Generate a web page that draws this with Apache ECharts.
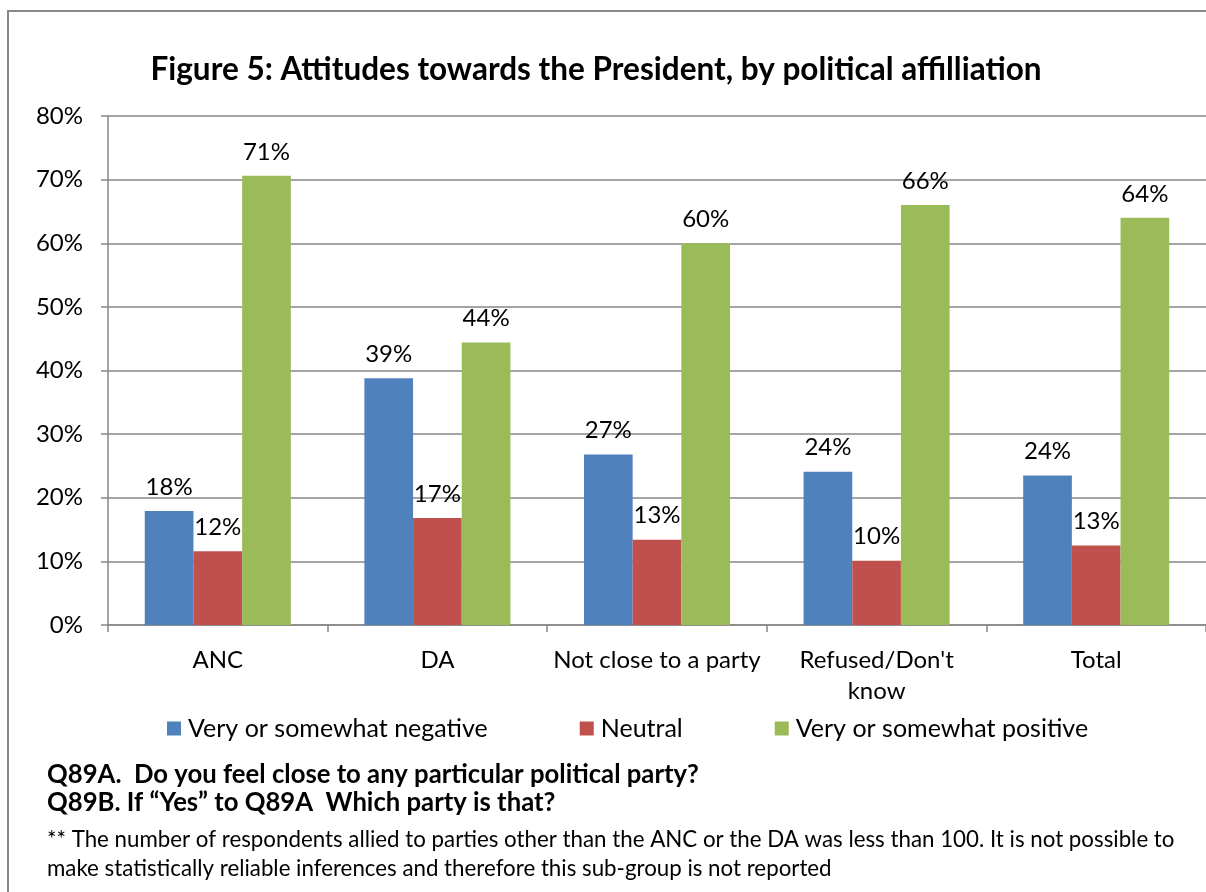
<!DOCTYPE html>
<html><head><meta charset="utf-8">
<script src="https://cdn.jsdelivr.net/npm/echarts@6/dist/echarts.min.js"></script>
<style>html,body{margin:0;padding:0;background:#fff}#c{width:1206px;height:892px}</style>
</head><body><div id="c"></div>
<script>
const categories = ["ANC", "DA", "Not close to a party", "Refused/Don't\nknow", "Total"];
const seriesNames = ["Very or somewhat negative", "Neutral", "Very or somewhat positive"];
const negative = [17.9, 38.8, 26.8, 24.1, 23.5];
const neutral = [11.6, 16.8, 13.4, 10.1, 12.5];
const positive = [70.6, 44.4, 60.0, 66.0, 64.0];
const colors = ["#4F81BD", "#C0504D", "#9BBB59"];
const yTicks = [0, 10, 20, 30, 40, 50, 60, 70, 80];
const FONT = "Lato";

const chart = echarts.init(document.getElementById('c'), null, {renderer: 'canvas'});
const mk = (name, data, color) => ({
  name, type: 'bar', data, barGap: '0%', barCategoryGap: '33.5%',
  itemStyle: {color},
  label: {show: true, position: 'top', distance: 12, color: '#000', fontFamily: FONT, fontSize: 24,
    formatter: p => Math.round(p.value) + '%'}
});
chart.setOption({
  animation: false,
  title: {text: 'Figure 5: Attitudes towards the President, by political affilliation', left: 591, textAlign: 'center', top: 49,
    textStyle: {fontFamily: FONT, fontSize: 31.5, fontWeight: 'bold', color: '#000'}},
  legend: {bottom: 146, left: 162, itemWidth: 14, itemHeight: 14, itemGap: 92, icon: 'rect',
    textStyle: {fontFamily: FONT, fontSize: 25, color: '#000', padding: [0, 0, 0, 2]}, data: seriesNames},
  grid: {left: 108, right: -10, top: 116, bottom: 267, containLabel: false},
  xAxis: {type: 'category', data: categories,
    axisLine: {lineStyle: {color: '#868686', width: 1.5}},
    axisTick: {show: true, length: 7, lineStyle: {color: '#868686', width: 1.5}},
    axisLabel: {interval: 0, fontFamily: FONT, fontSize: 24, color: '#000', margin: 20, lineHeight: 31}},
  yAxis: {type: 'value', min: yTicks[0], max: yTicks[yTicks.length - 1], interval: 10,
    axisLine: {show: true, lineStyle: {color: '#868686', width: 1.5}},
    axisTick: {show: true, length: 7, lineStyle: {color: '#868686', width: 1.5}},
    splitLine: {lineStyle: {color: '#868686', width: 1.5}},
    axisLabel: {fontFamily: FONT, fontSize: 24, color: '#000', margin: 25, formatter: v => v + '%'}},
  series: [mk(seriesNames[0], negative, colors[0]), mk(seriesNames[1], neutral, colors[1]), mk(seriesNames[2], positive, colors[2])],
  graphic: [
    {type: 'rect', shape: {x: 8, y: 11, width: 1400, height: 1000}, style: {fill: 'none', stroke: '#888', lineWidth: 2}, silent: true},
    {type: 'text', left: 47, top: 762, style: {text: 'Q89A.  Do you feel close to any particular political party?', font: 'bold 25.7px Lato', fill: '#000'}},
    {type: 'text', left: 47, top: 790, style: {text: 'Q89B. If “Yes” to Q89A  Which party is that?', font: 'bold 25.7px Lato', fill: '#000'}},
    {type: 'text', left: 47, top: 829, style: {text: '** The number of respondents allied to parties other than the ANC or the DA was less than 100. It is not possible to', font: '22.3px Lato', fill: '#000'}},
    {type: 'text', left: 47, top: 858, style: {text: 'make statistically reliable inferences and therefore this sub-group is not reported', font: '22.3px Lato', fill: '#000'}}
  ]
});
</script></body></html>
